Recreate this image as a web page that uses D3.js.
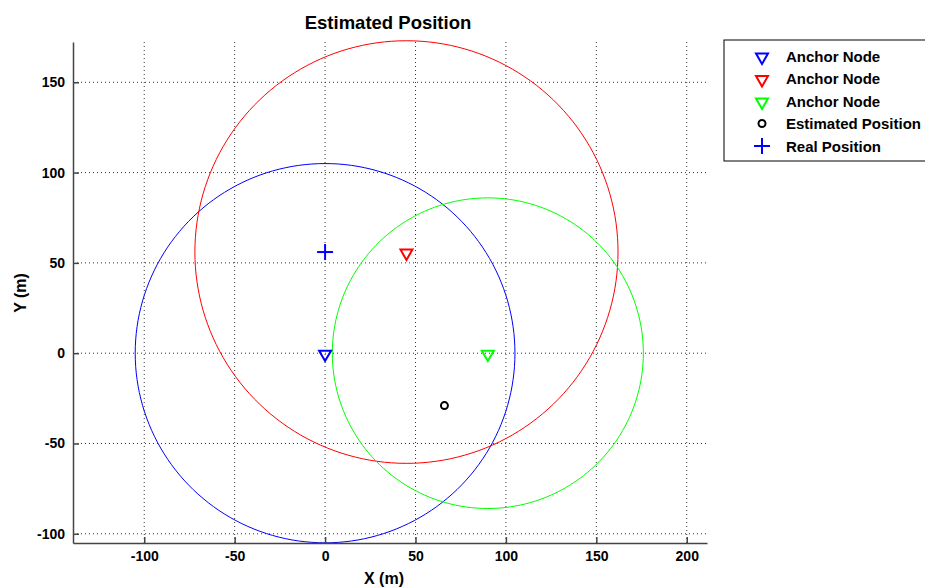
<!DOCTYPE html>
<html lang="en">
    <head>
        <meta charset="utf-8">
        <title>Estimated Position</title>
        <script type="text/javascript" src="https://d3js.org/d3.v7.min.js"></script>
        <style type="text/css">
            body{ margin: 0; background: #fff; }
            text{ font-family: "Liberation Sans", Arial, sans-serif; font-weight: bold; fill: #000; }
            .grid line{ stroke: #333; stroke-width: 1; stroke-dasharray: 1,3; }
            .axis path, .axis line{ stroke: #444; stroke-width: 1.5; }
            .axis text{ font-size: 14px; }
        </style>
    </head>
    <body>
        <svg id="chart" width="925" height="588"></svg>
        <script type="text/javascript">
        //data
        const anchorX = [0, 45, 90];
        const anchorY = [0, 56, 0];
        const anchorR = [105, 117, 86];
        const anchorColor = ["#0000ff", "#ff0000", "#00ff00"];
        const estimated = [66, -29];
        const real = [0, 56];
        const xTicks = [-100, -50, 0, 50, 100, 150, 200];
        const yTicks = [-100, -50, 0, 50, 100, 150];
        const legendLabels = ["Anchor Node", "Anchor Node", "Anchor Node", "Estimated Position", "Real Position"];

        const svg = d3.select("#chart");
        const plotL = 73, plotR = 707, plotT = 42, plotB = 543;
        const x = d3.scaleLinear().domain([-139.4, 211.2]).range([plotL, plotR]);
        const y = d3.scaleLinear().domain([-105.1, 172.3]).range([plotB, plotT]);
        const fmt = d => String(d); // plain hyphen minus like the original

        //grid
        const grid = svg.append("g").attr("class", "grid");
        grid.selectAll(".gx").data(xTicks).join("line").attr("class", "gx")
            .attr("x1", d => x(d)).attr("x2", d => x(d))
            .attr("y1", plotT).attr("y2", plotB);
        grid.selectAll(".gy").data(yTicks).join("line").attr("class", "gy")
            .attr("x1", plotL).attr("x2", plotR)
            .attr("y1", d => y(d)).attr("y2", d => y(d));

        //range circles
        const angles = d3.range(0, 361, 2);
        const line = d3.line();
        anchorX.forEach((cx, i) => {
            const pts = angles.map(a => {
                const t = a * Math.PI / 180;
                return [x(cx + anchorR[i] * Math.cos(t)), y(anchorY[i] + anchorR[i] * Math.sin(t))];
            });
            svg.append("path").attr("d", line(pts))
               .attr("fill", "none").attr("stroke", anchorColor[i]).attr("stroke-width", 1);
        });

        //axes
        svg.append("g").attr("class", "axis")
           .attr("transform", `translate(0,${plotB})`)
           .call(d3.axisBottom(x).tickValues(xTicks).tickFormat(fmt).tickSize(-6).tickPadding(8).tickSizeOuter(0));
        svg.append("g").attr("class", "axis")
           .attr("transform", `translate(${plotL},0)`)
           .call(d3.axisLeft(y).tickValues(yTicks).tickFormat(fmt).tickSize(-6).tickPadding(8).tickSizeOuter(0));

        //markers
        const tri = d3.symbol().type(d3.symbolTriangle).size(62);
        svg.selectAll(".anchor").data(anchorX).join("path").attr("class", "anchor")
           .attr("d", tri)
           .attr("transform", (d, i) => `translate(${x(d)},${y(anchorY[i]) + 1}) rotate(180)`)
           .attr("fill", "none").attr("stroke", (d, i) => anchorColor[i]).attr("stroke-width", 2);
        svg.append("circle").attr("cx", x(estimated[0])).attr("cy", y(estimated[1])).attr("r", 3.5)
           .attr("fill", "none").attr("stroke", "#000").attr("stroke-width", 2);
        const plus = (g, cx, cy) => {
            g.append("line").attr("x1", cx - 8).attr("x2", cx + 8).attr("y1", cy).attr("y2", cy);
            g.append("line").attr("x1", cx).attr("x2", cx).attr("y1", cy - 8).attr("y2", cy + 8);
        };
        const realG = svg.append("g").attr("stroke", "#0000ff").attr("stroke-width", 2);
        plus(realG, x(real[0]), y(real[1]));

        //title and labels
        svg.append("text").attr("x", 388).attr("y", 29).attr("text-anchor", "middle")
           .style("font-size", "18.5px").text("Estimated Position");
        svg.append("text").attr("x", 384).attr("y", 584).attr("text-anchor", "middle")
           .style("font-size", "16px").text("X (m)");
        svg.append("text").attr("transform", "translate(26,293) rotate(-90)").attr("text-anchor", "middle")
           .style("font-size", "16px").text("Y (m)");

        //legend
        const lg = svg.append("g").attr("transform", "translate(724,40)");
        lg.append("rect").attr("width", 215).attr("height", 121)
          .attr("fill", "#fff").attr("stroke", "#000").attr("stroke-width", 1);
        const rowY = i => 16 + i * 22.5;
        legendLabels.forEach((lab, i) => {
            lg.append("text").attr("x", 62).attr("y", rowY(i) + 5.5).style("font-size", "15px").text(lab);
        });
        anchorColor.forEach((c, i) => {
            lg.append("path").attr("d", tri)
              .attr("transform", `translate(38,${rowY(i) + 1}) rotate(180)`)
              .attr("fill", "none").attr("stroke", c).attr("stroke-width", 2);
        });
        lg.append("circle").attr("cx", 38).attr("cy", rowY(3)).attr("r", 3.5)
          .attr("fill", "none").attr("stroke", "#000").attr("stroke-width", 2);
        const lgPlus = lg.append("g").attr("stroke", "#0000ff").attr("stroke-width", 2);
        plus(lgPlus, 38, rowY(4));
        </script>
    </body>
</html>
